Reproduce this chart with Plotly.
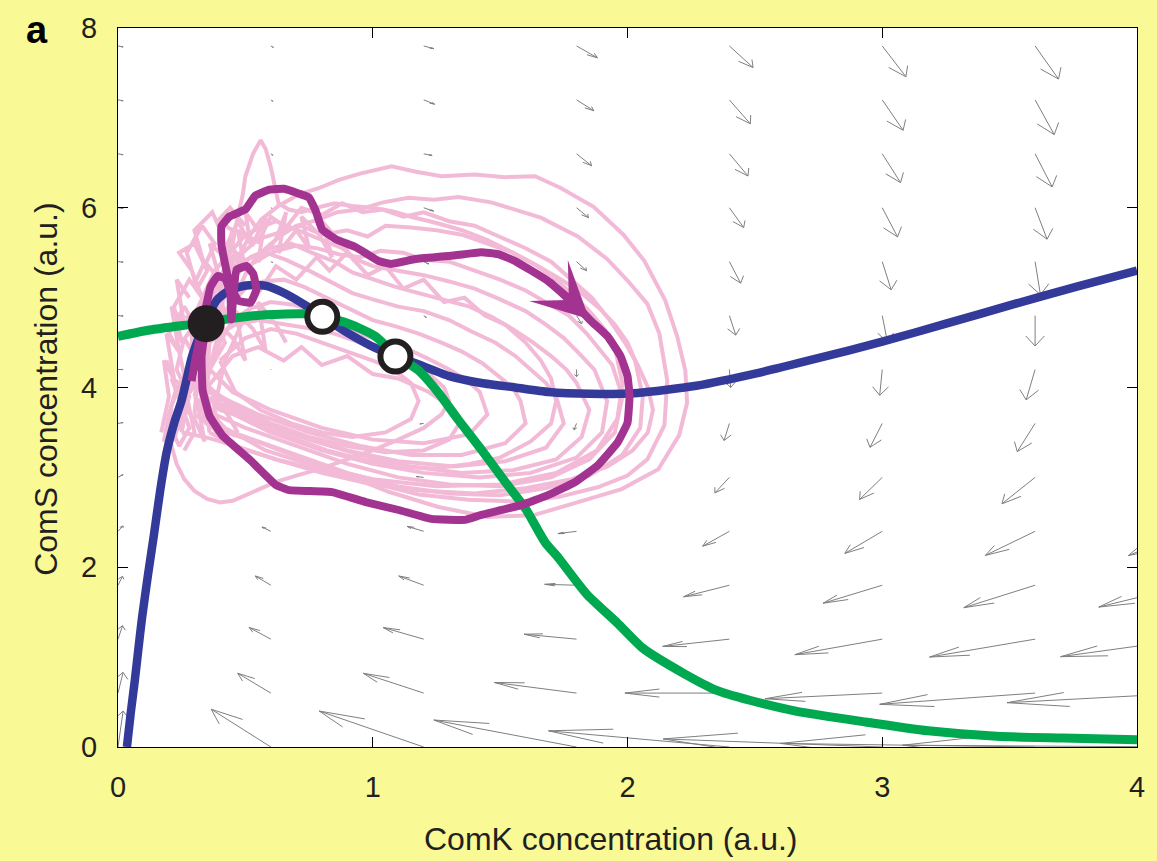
import plotly.graph_objects as go

# ---------------- colours ----------------
PAPER = "#F9F996"
PINK = "#F2BAD6"
PURPLE = "#A33391"
BLUE = "#333A99"
GREEN = "#00A84F"
ARROW_GREY = "#7F7F7F"
INK = "#231F20"

# ---------------- flow field (ComK, ComS) ----------------
GRID_K = [0.0, 0.6, 1.2, 1.8, 2.4, 3.0, 3.6, 4.2]
GRID_S = [0.0, 0.6, 1.2, 1.8, 2.4, 3.0, 3.6, 4.2, 4.8, 5.4, 6.0, 6.6, 7.2, 7.8]
# rows follow GRID_S, columns follow GRID_K
FLOW_U = [
    [0.02, -0.234, -0.41, -0.56, -0.71, -0.86, -1.0, -1.12],
    [0.02, -0.13, -0.237, -0.323, -0.41, -0.46, -0.61, -0.71],
    [0.018, -0.085, -0.159, -0.206, -0.262, -0.343, -0.414, -0.50],
    [0.018, -0.061, -0.098, -0.125, -0.18, -0.232, -0.28, -0.35],
    [0.02, -0.035, -0.065, -0.073, -0.105, -0.147, -0.195, -0.234],
    [0.02, -0.02, -0.03, -0.04, -0.057, -0.089, -0.13, -0.16],
    [0.02, -0.01, -0.015, -0.01, -0.021, -0.048, -0.07, -0.10],
    [0.02, 0.0, 0.0, 0.0, 0.005, -0.01, -0.035, -0.06],
    [0.02, 0.005, 0.01, 0.02, 0.025, 0.02, 0.0, -0.02],
    [0.02, 0.008, 0.02, 0.039, 0.044, 0.035, 0.021, 0.0],
    [0.02, 0.008, 0.039, 0.047, 0.056, 0.06, 0.047, 0.03],
    [0.02, 0.008, 0.033, 0.059, 0.073, 0.072, 0.067, 0.06],
    [0.02, 0.008, 0.043, 0.068, 0.082, 0.082, 0.075, 0.07],
    [0.02, 0.01, 0.039, 0.082, 0.093, 0.093, 0.092, 0.09],
]
FLOW_V = [
    [0.40, 0.42, 0.40, 0.30, 0.18, 0.09, 0.04, 0.02],
    [0.23, 0.22, 0.22, 0.118, 0.0, -0.063, -0.125, -0.107],
    [0.15, 0.129, 0.129, 0.055, -0.081, -0.173, -0.199, -0.195],
    [0.10, 0.103, 0.103, 0.01, -0.129, -0.20, -0.25, -0.243],
    [0.06, 0.048, 0.055, -0.026, -0.166, -0.246, -0.268, -0.27],
    [0.03, 0.02, 0.01, -0.05, -0.173, -0.246, -0.294, -0.31],
    [0.01, 0.005, -0.005, -0.07, -0.19, -0.265, -0.313, -0.33],
    [0.0, -0.005, -0.01, -0.08, -0.20, -0.287, -0.338, -0.36],
    [-0.005, -0.008, -0.02, -0.09, -0.217, -0.29, -0.338, -0.37],
    [-0.005, -0.01, -0.025, -0.10, -0.239, -0.313, -0.368, -0.38],
    [-0.008, -0.012, -0.037, -0.11, -0.22, -0.324, -0.35, -0.37],
    [-0.01, -0.015, -0.018, -0.132, -0.247, -0.32, -0.368, -0.38],
    [-0.01, -0.015, -0.048, -0.121, -0.265, -0.338, -0.386, -0.39],
    [-0.01, -0.015, -0.03, -0.132, -0.24, -0.342, -0.368, -0.39],
]

# ---------------- nullclines ----------------
BLUE_K = [0.035, 0.05, 0.066, 0.08, 0.094, 0.118, 0.141, 0.166, 0.191, 0.22, 0.25, 0.27,
          0.289, 0.315, 0.34, 0.387, 0.43, 0.477, 0.53, 0.582,
          0.66, 0.738, 0.80, 0.906, 1.01, 1.09, 1.168, 1.297, 1.426, 1.559, 1.69, 1.85,
          2.04, 2.27, 2.51, 2.74, 3.0, 3.25, 3.52, 3.76, 4.0]
BLUE_S = [0.0, 0.38, 0.74, 1.09, 1.43, 1.92, 2.36, 2.86, 3.28, 3.60, 3.86, 4.10,
          4.33, 4.54, 4.71, 4.97, 5.07, 5.12, 5.14, 5.13,
          5.04, 4.91, 4.79, 4.60, 4.44, 4.35, 4.27, 4.13, 4.05, 4.0, 3.95, 3.93,
          3.94, 4.02, 4.16, 4.32, 4.51, 4.71, 4.93, 5.12, 5.30]

GREEN_K = [0.0, 0.125, 0.254, 0.34, 0.45, 0.58, 0.738, 0.797, 0.906, 1.01, 1.09,
           1.18, 1.258, 1.336, 1.426, 1.52, 1.60, 1.676, 1.73, 1.84, 1.96, 2.06,
           2.22, 2.35, 2.48, 2.66, 2.93, 3.18, 3.45, 3.71, 4.0]
GREEN_S = [4.57, 4.64, 4.69, 4.72, 4.77, 4.81, 4.82, 4.79, 4.71, 4.57, 4.36,
           4.19, 3.94, 3.64, 3.31, 2.95, 2.65, 2.28, 2.10, 1.70, 1.38, 1.10,
           0.82, 0.63, 0.52, 0.40, 0.28, 0.18, 0.12, 0.10, 0.08]

# ---------------- fixed points ----------------
STABLE_K = [0.346]
STABLE_S = [4.71]
UNSTABLE_K = [0.802, 1.089]
UNSTABLE_S = [4.786, 4.344]

# ---------------- highlighted excursion ----------------
EXC_K = [0.289, 0.301, 0.320, 0.344, 0.363, 0.391, 0.422, 0.441, 0.445, 0.453, 0.465,
         0.504, 0.531, 0.543, 0.520, 0.473, 0.441, 0.422, 0.406, 0.406, 0.4375, 0.5,
         0.539, 0.594, 0.652, 0.711, 0.75, 0.777, 0.801, 0.855, 0.934, 1.023, 1.070,
         1.168, 1.297, 1.426, 1.492, 1.559, 1.6875, 1.793, 1.855, 1.922, 1.973, 2.0,
         2.008, 2.0, 1.961, 1.883, 1.793, 1.6875, 1.582, 1.426, 1.363, 1.230, 1.102,
         0.973, 0.840, 0.672, 0.621, 0.516, 0.410, 0.359, 0.332, 0.328, 0.340]
EXC_S = [4.072, 4.270, 4.546, 4.877, 5.120, 5.241, 5.208, 5.043, 4.756, 5.021, 5.308,
         5.352, 5.263, 5.087, 4.943, 4.966, 5.120, 5.352, 5.594, 5.793, 5.903, 5.981,
         6.135, 6.201, 6.212, 6.157, 6.113, 5.959, 5.760, 5.650, 5.561, 5.407, 5.374,
         5.429, 5.462, 5.506, 5.484, 5.407, 5.186, 4.932, 4.745, 4.568, 4.348, 4.127,
         3.906, 3.608, 3.388, 3.134, 2.946, 2.803, 2.692, 2.582, 2.527, 2.538, 2.637,
         2.725, 2.836, 2.858, 2.913, 3.200, 3.465, 3.685, 3.972, 4.348, 4.601]
# direction marker on the excursion: tip and a point behind it
EXC_ARROW_TIP = (1.85, 4.76)
EXC_ARROW_TAIL = (1.69, 5.19)

# ---------------- background trajectories ----------------
LOOP_A_K = [0.34, 0.32, 0.33, 0.36, 0.40, 0.42, 0.46, 0.477, 0.52, 0.5625, 0.63, 0.711, 0.79,
            0.867, 0.95, 1.074, 1.17, 1.27, 1.40, 1.52, 1.637, 1.738, 1.867, 1.984, 2.066,
            2.148, 2.195, 2.227, 2.234, 2.203, 2.121, 1.977, 1.8125, 1.633, 1.453, 1.258,
            1.0625, 0.867, 0.711, 0.555, 0.418, 0.34]
LOOP_A_S = [3.61, 4.05, 4.35, 4.60, 4.85, 5.04, 5.30, 5.48, 5.70, 5.87, 6.02, 6.15, 6.22,
            6.31, 6.38, 6.46, 6.40, 6.35, 6.37, 6.34, 6.35, 6.22, 6.01, 5.70, 5.41,
            4.97, 4.57, 4.19, 3.83, 3.47, 3.09, 2.87, 2.73, 2.58, 2.56, 2.67,
            2.84, 3.06, 3.22, 3.39, 3.50, 3.61]

LOOP_B_K = [0.359, 0.34, 0.36, 0.379, 0.41, 0.445, 0.49, 0.516, 0.58, 0.633, 0.70, 0.789, 0.86,
            0.945, 1.04, 1.14, 1.24, 1.336, 1.465, 1.56, 1.66, 1.805, 1.92, 2.0, 2.078, 2.125,
            2.156, 2.145, 2.078, 2.0, 1.883, 1.727, 1.57, 1.375, 1.18, 0.984, 0.789, 0.633,
            0.477, 0.359]
LOOP_B_S = [3.50, 3.94, 4.2, 4.44, 4.72, 4.93, 5.2, 5.35, 5.55, 5.68, 5.80, 5.87, 5.95,
            5.98, 6.06, 6.11, 6.09, 6.12, 6.06, 5.98, 5.89, 5.68, 5.43, 5.19, 4.93, 4.60,
            4.08, 3.58, 3.20, 3.02, 2.89, 2.78, 2.73, 2.75, 2.81, 2.95, 3.08, 3.19,
            3.33, 3.50]

LOOP_C_K = [0.30, 0.31, 0.33, 0.36, 0.40, 0.45, 0.55, 0.63, 0.72, 0.80, 0.9, 0.98, 1.05, 1.15,
            1.25, 1.35, 1.45, 1.55, 1.65, 1.74, 1.82, 1.89, 1.95, 2.0, 2.03, 2.06, 2.05, 1.98,
            1.85, 1.68, 1.5, 1.3, 1.1, 0.9, 0.7, 0.5, 0.35, 0.30]
LOOP_C_S = [3.70, 4.0, 4.3, 4.6, 4.9, 5.4, 5.65, 5.72, 5.8, 5.7, 5.75, 5.68, 5.8, 5.78,
            5.75, 5.7, 5.6, 5.5, 5.35, 5.2, 5.05, 4.88, 4.7, 4.5, 4.3, 3.9, 3.55, 3.25,
            3.02, 2.88, 2.8, 2.82, 2.9, 3.05, 3.25, 3.45, 3.6, 3.70]

LOOP_D_K = [0.33, 0.34, 0.35, 0.38, 0.40, 0.48, 0.6, 0.7, 0.78, 0.87, 0.95, 1.03, 1.12, 1.2,
            1.3, 1.4, 1.5, 1.6, 1.68, 1.77, 1.84, 1.94, 1.98, 1.95, 1.85, 1.7, 1.5, 1.3, 1.1,
            0.9, 0.7, 0.5, 0.38, 0.33]
LOOP_D_S = [3.9, 4.2, 4.5, 4.75, 5.0, 5.3, 5.5, 5.58, 5.55, 5.48, 5.45, 5.52, 5.5, 5.42,
            5.4, 5.3, 5.2, 5.08, 4.95, 4.8, 4.6, 4.25, 3.9, 3.5, 3.2, 3.0, 2.9, 2.92, 3.0,
            3.15, 3.35, 3.55, 3.7, 3.9]

LOOP_E_K = [0.28, 0.29, 0.3, 0.34, 0.38, 0.44, 0.5, 0.56, 0.62, 0.68, 0.75, 0.82, 0.88, 0.94,
            1.0, 1.1, 1.2, 1.3, 1.4, 1.5, 1.6, 1.68, 1.75, 1.81, 1.87, 1.92, 1.9, 1.8, 1.62,
            1.42, 1.2, 1.0, 0.8, 0.6, 0.42, 0.3, 0.28]
LOOP_E_S = [4.2, 4.5, 4.8, 5.05, 5.3, 5.5, 5.7, 5.78, 5.85, 5.78, 5.7, 5.62, 5.55, 5.42,
            5.35, 5.3, 5.25, 5.18, 5.1, 4.98, 4.85, 4.7, 4.55, 4.38, 4.2, 3.85, 3.5, 3.22,
            3.05, 3.0, 3.05, 3.15, 3.3, 3.5, 3.75, 4.0, 4.2]

LOOP_F_K = [0.35, 0.355, 0.36, 0.39, 0.42, 0.47, 0.52, 0.6, 0.68, 0.76, 0.85, 0.92, 1.0, 1.09,
            1.18, 1.28, 1.38, 1.47, 1.55, 1.63, 1.7, 1.76, 1.8, 1.85, 1.82, 1.72, 1.55, 1.35,
            1.15, 0.95, 0.75, 0.55, 0.4, 0.35]
LOOP_F_S = [4.0, 4.3, 4.6, 4.85, 5.1, 5.3, 5.45, 5.55, 5.6, 5.5, 5.4, 5.28, 5.2, 5.12,
            5.05, 4.98, 4.9, 4.78, 4.65, 4.5, 4.35, 4.2, 4.05, 3.75, 3.45, 3.2, 3.08, 3.05,
            3.12, 3.25, 3.42, 3.62, 3.82, 4.0]

LOOP_G_K = [0.30, 0.31, 0.33, 0.37, 0.42, 0.5, 0.58, 0.66, 0.75, 0.83, 0.92, 1.0, 1.1, 1.2,
            1.3, 1.39, 1.48, 1.56, 1.62, 1.68, 1.72, 1.75, 1.68, 1.52, 1.32, 1.1, 0.9, 0.7,
            0.5, 0.36, 0.30]
LOOP_G_S = [4.3, 4.6, 4.9, 5.1, 5.3, 5.42, 5.5, 5.42, 5.3, 5.18, 5.05, 4.98, 4.9, 4.85,
            4.75, 4.62, 4.5, 4.35, 4.2, 4.05, 3.9, 3.6, 3.33, 3.18, 3.12, 3.18, 3.3, 3.48,
            3.7, 3.95, 4.3]

LOOP_H_K = [0.32, 0.35, 0.38, 0.44, 0.5, 0.57, 0.65, 0.73, 0.82, 0.91, 1.0, 1.09, 1.18, 1.27,
            1.35, 1.43, 1.5, 1.55, 1.58, 1.6, 1.52, 1.35, 1.15, 0.95, 0.75, 0.55, 0.4, 0.32]
LOOP_H_S = [4.1, 4.4, 4.7, 4.92, 5.1, 5.18, 5.2, 5.12, 5.0, 4.88, 4.75, 4.68, 4.6, 4.5,
            4.4, 4.27, 4.12, 4.0, 3.85, 3.6, 3.38, 3.25, 3.25, 3.35, 3.5, 3.7, 3.9, 4.1]

LOOP_I_K = [0.36, 0.4, 0.45, 0.52, 0.6, 0.69, 0.78, 0.87, 0.95, 1.03, 1.12, 1.21, 1.3, 1.37,
            1.42, 1.45, 1.38, 1.2, 1.0, 0.8, 0.6, 0.45, 0.36]
LOOP_I_S = [4.2, 4.5, 4.75, 4.88, 4.95, 4.92, 4.85, 4.72, 4.6, 4.52, 4.45, 4.33, 4.2, 4.08,
            3.95, 3.7, 3.48, 3.38, 3.42, 3.55, 3.75, 3.95, 4.2]

LOOP_J_K = [0.3, 0.33, 0.35, 0.39, 0.42, 0.45, 0.47, 0.49, 0.5, 0.53, 0.56, 0.58, 0.6, 0.62,
            0.63, 0.67, 0.72, 0.78, 0.85, 0.92, 1.0, 1.08, 1.15, 1.25, 1.35, 1.45, 1.55, 1.64,
            1.72, 1.79, 1.85, 1.91, 1.95, 1.98, 1.96, 1.88, 1.72, 1.5, 1.25, 1.0, 0.78, 0.58,
            0.42, 0.3]
LOOP_J_S = [3.9, 4.25, 4.6, 4.95, 5.3, 5.6, 5.9, 6.15, 6.35, 6.6, 6.75, 6.65, 6.45, 6.2,
            6.05, 5.98, 5.95, 6.0, 6.05, 6.02, 6.0, 5.96, 5.9, 5.83, 5.75, 5.64, 5.5, 5.36,
            5.2, 5.02, 4.85, 4.65, 4.45, 4.05, 3.65, 3.3, 3.05, 2.92, 2.9, 2.98, 3.12, 3.3,
            3.55, 3.9]

LOOP_K_K = [0.32, 0.27, 0.24, 0.21, 0.2, 0.21, 0.23, 0.26, 0.3, 0.35, 0.4, 0.45, 0.5, 0.56,
            0.62, 0.7, 0.8, 0.9, 1.0, 1.1, 1.2, 1.27, 1.3, 1.28, 1.22, 1.15, 1.05, 0.95, 0.85,
            0.75, 0.65, 0.55, 0.46, 0.4, 0.32]
LOOP_K_S = [4.4, 4.2, 4.0, 3.8, 3.55, 3.35, 3.15, 2.98, 2.85, 2.76, 2.72, 2.74, 2.8, 2.88,
            2.95, 3.02, 3.1, 3.2, 3.3, 3.42, 3.55, 3.7, 3.85, 4.0, 4.15, 4.28, 4.4, 4.5, 4.6,
            4.66, 4.7, 4.75, 4.7, 4.6, 4.4]

LOOP_L_K = [0.38, 0.42, 0.5, 0.55, 0.62, 0.7, 0.78, 0.83, 0.9, 0.98, 1.05, 1.12, 1.2, 1.28,
            1.36, 1.44, 1.52, 1.6, 1.66, 1.7, 1.72, 1.7, 1.62, 1.5, 1.38, 1.24, 1.1, 0.96, 0.82,
            0.7, 0.58, 0.48, 0.4, 0.38]
LOOP_L_S = [3.8, 4.3, 4.8, 5.05, 5.35, 5.2, 5.45, 5.3, 5.5, 5.25, 5.35, 5.1, 5.2, 4.95,
            5.0, 4.8, 4.7, 4.5, 4.3, 4.1, 3.85, 3.6, 3.4, 3.22, 3.15, 3.1, 3.12, 3.2, 3.3,
            3.42, 3.55, 3.68, 3.75, 3.8]

LOOP_M_K = [0.25, 0.28, 0.32, 0.36, 0.4, 0.44, 0.5, 0.55, 0.6, 0.66, 0.72, 0.8, 0.88, 0.96,
            1.04, 1.12, 1.2, 1.3, 1.4, 1.5, 1.6, 1.7, 1.78, 1.86, 1.93, 1.99, 2.04, 2.08, 2.1,
            2.08, 2.02, 1.92, 1.78, 1.6, 1.4, 1.2, 1.0, 0.8, 0.62, 0.46, 0.34, 0.25]
LOOP_M_S = [3.5, 4.0, 4.5, 4.9, 5.2, 5.5, 5.7, 5.62, 5.9, 5.78, 6.0, 5.92, 6.05, 5.95,
            5.98, 5.9, 5.95, 5.85, 5.8, 5.68, 5.55, 5.4, 5.2, 5.0, 4.75, 4.5, 4.25, 4.0, 3.75,
            3.5, 3.3, 3.12, 2.98, 2.88, 2.82, 2.85, 2.92, 3.05, 3.2, 3.35, 3.45, 3.5]

LOOP_N_K = [0.4, 0.5, 0.6, 0.7, 0.8, 0.9, 1.0, 1.08, 1.15, 1.18, 1.15, 1.05, 0.92, 0.8,
            0.68, 0.56, 0.46, 0.4]
LOOP_N_S = [4.3, 4.55, 4.65, 4.6, 4.5, 4.4, 4.3, 4.2, 4.05, 3.85, 3.65, 3.5, 3.45, 3.5,
            3.6, 3.75, 3.95, 4.3]

LOOP_O_K = [0.35, 0.45, 0.55, 0.65, 0.72, 0.8, 0.9, 1.0, 1.1, 1.22, 1.3, 1.34, 1.3, 1.2,
            1.05, 0.9, 0.75, 0.6, 0.46, 0.35]
LOOP_O_S = [4.0, 4.35, 4.45, 4.3, 4.45, 4.25, 4.35, 4.15, 4.1, 3.95, 3.8, 3.6, 3.42, 3.3,
            3.28, 3.35, 3.45, 3.6, 3.8, 4.0]

# noisy dwelling near the stable state
SCRIBBLE_1_K = [0.22, 0.25, 0.21, 0.27, 0.24, 0.2, 0.26, 0.3, 0.25, 0.22, 0.28, 0.33, 0.29,
                0.24, 0.3, 0.35, 0.31, 0.27, 0.33, 0.38, 0.34, 0.3, 0.37, 0.41]
SCRIBBLE_1_S = [3.4, 3.8, 4.1, 4.0, 4.4, 4.6, 4.9, 4.7, 4.5, 4.9, 5.2, 5.0, 5.3, 5.5, 5.6,
                5.3, 5.1, 5.5, 5.8, 5.6, 5.35, 5.75, 5.95, 5.7]
SCRIBBLE_2_K = [0.19, 0.23, 0.2, 0.18, 0.24, 0.28, 0.23, 0.26, 0.31, 0.27, 0.33, 0.36, 0.3,
                0.34, 0.4, 0.36, 0.42, 0.45, 0.39, 0.44, 0.5]
SCRIBBLE_2_S = [4.3, 4.0, 3.7, 3.4, 3.55, 3.9, 4.2, 4.55, 4.3, 4.8, 4.6, 4.9, 5.15, 5.4,
                5.2, 5.6, 5.45, 5.75, 5.85, 6.0, 5.8]
SCRIBBLE_3_K = [0.26, 0.3, 0.27, 0.32, 0.36, 0.31, 0.35, 0.4, 0.37, 0.42, 0.38, 0.44, 0.48,
                0.43, 0.47, 0.52, 0.5, 0.55]
SCRIBBLE_3_S = [3.3, 3.5, 3.9, 4.1, 3.8, 4.4, 4.7, 4.5, 4.95, 4.8, 5.3, 5.1, 5.45, 5.6,
                5.85, 5.6, 5.95, 5.75]
SCRIBBLE_4_K = [0.4, 0.46, 0.5, 0.47, 0.53, 0.58, 0.55, 0.62, 0.66, 0.63, 0.7, 0.75, 0.72,
                0.79, 0.84, 0.8, 0.88, 0.93]
SCRIBBLE_4_S = [5.2, 5.5, 5.3, 5.75, 5.6, 5.9, 5.4, 5.65, 5.95, 5.5, 5.75, 5.55, 5.9, 5.7,
                5.45, 5.85, 5.6, 5.4]
SCRIBBLE_5_K = [0.2, 0.24, 0.28, 0.25, 0.3, 0.34, 0.31, 0.36, 0.4, 0.37, 0.43, 0.47]
SCRIBBLE_5_S = [3.6, 3.35, 3.55, 3.8, 3.65, 3.4, 3.85, 3.6, 3.45, 3.9, 3.7, 3.5]
SCRIBBLE_6_K = [0.3, 0.36, 0.42, 0.38, 0.45, 0.5, 0.46, 0.53, 0.58, 0.55, 0.62, 0.66]
SCRIBBLE_6_S = [4.4, 4.2, 4.5, 4.75, 4.55, 4.3, 4.85, 4.65, 4.4, 4.95, 4.7, 4.5]
SCRIBBLE_7_K = [0.17, 0.2, 0.18, 0.22, 0.19, 0.24, 0.21, 0.26, 0.23, 0.28]
SCRIBBLE_7_S = [3.5, 3.9, 4.3, 4.1, 4.6, 4.4, 4.9, 4.7, 5.2, 5.0]

PINK_LOOPS = [
    (LOOP_A_K, LOOP_A_S), (LOOP_B_K, LOOP_B_S), (LOOP_C_K, LOOP_C_S),
    (LOOP_D_K, LOOP_D_S), (LOOP_E_K, LOOP_E_S), (LOOP_F_K, LOOP_F_S),
    (LOOP_G_K, LOOP_G_S), (LOOP_H_K, LOOP_H_S), (LOOP_I_K, LOOP_I_S),
    (LOOP_J_K, LOOP_J_S), (LOOP_K_K, LOOP_K_S), (LOOP_L_K, LOOP_L_S),
    (LOOP_M_K, LOOP_M_S), (LOOP_N_K, LOOP_N_S), (LOOP_O_K, LOOP_O_S),
]
PINK_SCRIBBLES = [
    (SCRIBBLE_1_K, SCRIBBLE_1_S), (SCRIBBLE_2_K, SCRIBBLE_2_S),
    (SCRIBBLE_3_K, SCRIBBLE_3_S), (SCRIBBLE_4_K, SCRIBBLE_4_S),
    (SCRIBBLE_5_K, SCRIBBLE_5_S), (SCRIBBLE_6_K, SCRIBBLE_6_S),
    (SCRIBBLE_7_K, SCRIBBLE_7_S),
]


def quiver_segments(gx, gy, U, V, alpha=0.33, beta=0.33):
    """Shafts and two-barb heads, head geometry in data units."""
    xs, ys = [], []
    for j, y0 in enumerate(gy):
        for i, x0 in enumerate(gx):
            u, v = U[j][i], V[j][i]
            x1, y1 = x0 + u, y0 + v
            xs += [x0, x1, None]
            ys += [y0, y1, None]
            xs += [x1 - alpha * (u + beta * v), x1, x1 - alpha * (u - beta * v), None]
            ys += [y1 - alpha * (v - beta * u), y1, y1 - alpha * (v + beta * u), None]
    return xs, ys


fig = go.Figure()

qx, qy = quiver_segments(GRID_K, GRID_S, FLOW_U, FLOW_V)
fig.add_trace(go.Scatter(x=qx, y=qy, mode="lines",
                         line=dict(color=ARROW_GREY, width=1), hoverinfo="skip"))

for kx, sy in PINK_LOOPS + PINK_SCRIBBLES:
    fig.add_trace(go.Scatter(x=kx, y=sy, mode="lines",
                             line=dict(color=PINK, width=4), hoverinfo="skip"))

fig.add_trace(go.Scatter(x=BLUE_K, y=BLUE_S, mode="lines",
                         line=dict(color=BLUE, width=8.5, shape="spline", smoothing=0.6),
                         hoverinfo="skip"))
fig.add_trace(go.Scatter(x=GREEN_K, y=GREEN_S, mode="lines",
                         line=dict(color=GREEN, width=9, shape="spline", smoothing=0.6),
                         hoverinfo="skip"))
fig.add_trace(go.Scatter(x=EXC_K, y=EXC_S, mode="lines",
                         line=dict(color=PURPLE, width=8, shape="spline", smoothing=0.3),
                         hoverinfo="skip"))

fig.add_annotation(x=EXC_ARROW_TIP[0], y=EXC_ARROW_TIP[1],
                   ax=EXC_ARROW_TAIL[0], ay=EXC_ARROW_TAIL[1],
                   xref="x", yref="y", axref="x", ayref="y",
                   text="", showarrow=True, arrowhead=3, arrowsize=1.25,
                   arrowwidth=7.5, arrowcolor=PURPLE, standoff=0)

fig.add_trace(go.Scatter(x=STABLE_K, y=STABLE_S, mode="markers",
                         marker=dict(size=37, color=INK, line=dict(width=0)),
                         hoverinfo="skip"))
fig.add_trace(go.Scatter(x=UNSTABLE_K, y=UNSTABLE_S, mode="markers",
                         marker=dict(size=30, color="white", line=dict(width=6, color=INK)),
                         hoverinfo="skip"))

axis_common = dict(ticks="inside", ticklen=10, tickwidth=1, tickcolor="black",
                   showline=True, linecolor="black", linewidth=1.3, mirror="allticks",
                   showgrid=False, zeroline=False,
                   tickfont=dict(size=29, color=INK))
fig.update_xaxes(range=[0, 4], tickvals=[0, 1, 2, 3, 4], ticklabelstandoff=14, **axis_common)
fig.update_yaxes(range=[0, 8], tickvals=[0, 2, 4, 6, 8], ticklabelstandoff=14, **axis_common)

fig.add_annotation(text="ComK concentration (a.u.)", xref="paper", yref="paper",
                   x=0.4834, y=-0.128, xanchor="center", yanchor="middle",
                   showarrow=False, font=dict(size=32, color=INK))
fig.add_annotation(text="ComS concentration (a.u.)", xref="paper", yref="paper",
                   x=-0.0713, y=0.4986, xanchor="center", yanchor="middle", textangle=-90,
                   showarrow=False, font=dict(size=32, color=INK))
fig.add_annotation(text="<b>a</b>", xref="paper", yref="paper",
                   x=-0.0791, y=1.029, xanchor="center", yanchor="top",
                   showarrow=False, font=dict(size=38, color="black"))

fig.update_layout(width=1157, height=861,
                  margin=dict(l=118, r=15, t=22, b=114),
                  paper_bgcolor=PAPER, plot_bgcolor="white",
                  showlegend=False,
                  font=dict(family="Liberation Sans, Arial, sans-serif", color=INK))

fig.write_html("out.html")
